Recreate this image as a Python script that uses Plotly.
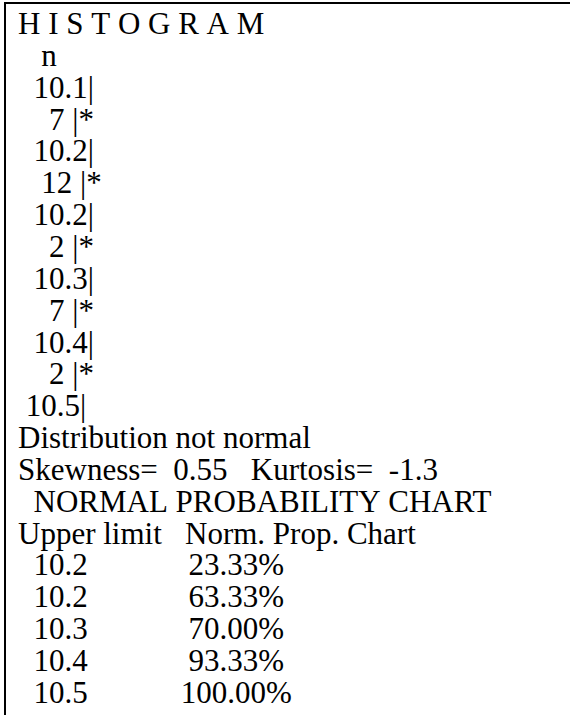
import plotly.graph_objects as go

# Histogram bins (edge labels) and counts per bin
bin_edges = ["10.1", "10.2", "10.2", "10.3", "10.4", "10.5"]
counts = [7, 12, 2, 7, 2]

# Shape statistics
skewness = 0.55
kurtosis = -1.3

# Normal probability table
upper_limits = ["10.2", "10.2", "10.3", "10.4", "10.5"]
cum_percent = [23.33, 63.33, 70.00, 93.33, 100.00]

W, H = 570, 715
FONT = "Liberation Serif"
SIZE = 31
PITCH = 31.85     # pixels per text line
FIRST = 23.5      # pixel centre of the first line
LEFT = 17.0       # pixel x where every line starts
ML, MT = 6, 4     # cell rule offsets (left, top)


def nb(s):
    # keep runs of spaces when rendered
    return s.replace(" ", "\u00a0")


lines = ["H I S T O G R A M", "   n"]
for i, c in enumerate(counts):
    lines.append("  " + bin_edges[i] + "|")
    lines.append("  " + f"{c:3d}" + " |*")
lines.append(" " + bin_edges[-1] + "|")
lines.append("Distribution not normal")
lines.append(f"Skewness=  {skewness}   Kurtosis=  {kurtosis}")
lines.append("  NORMAL PROBABILITY CHART")
lines.append("Upper limit   Norm. Prop. Chart")
for ul, p in zip(upper_limits, cum_percent):
    lines.append("  " + ul + " " * 11 + f"{p:7.2f}%")

fig = go.Figure()
fig.add_trace(go.Scatter(x=[LEFT], y=[0], mode="markers",
                         marker=dict(opacity=0), hoverinfo="skip",
                         showlegend=False))

for i, txt in enumerate(lines):
    fig.add_annotation(x=LEFT, y=i, xref="x", yref="y", text=nb(txt),
                       showarrow=False, xanchor="left", yanchor="middle",
                       font=dict(family=FONT, size=SIZE, color="black"),
                       borderpad=0)

# the cell's top and left rules are the axis lines of the plot area
fig.update_layout(
    width=W, height=H,
    margin=dict(l=ML, r=0, t=MT, b=0, pad=0),
    paper_bgcolor="white", plot_bgcolor="white",
    xaxis=dict(range=[ML, W], side="top", showline=True, linecolor="black",
               linewidth=2, showticklabels=False, ticks="", showgrid=False,
               zeroline=False, fixedrange=True),
    yaxis=dict(range=[(H - FIRST) / PITCH, (MT - FIRST) / PITCH],
               showline=True, linecolor="black", linewidth=1.5,
               showticklabels=False, ticks="", showgrid=False,
               zeroline=False, fixedrange=True),
    showlegend=False,
)

fig.write_html("out.html")
